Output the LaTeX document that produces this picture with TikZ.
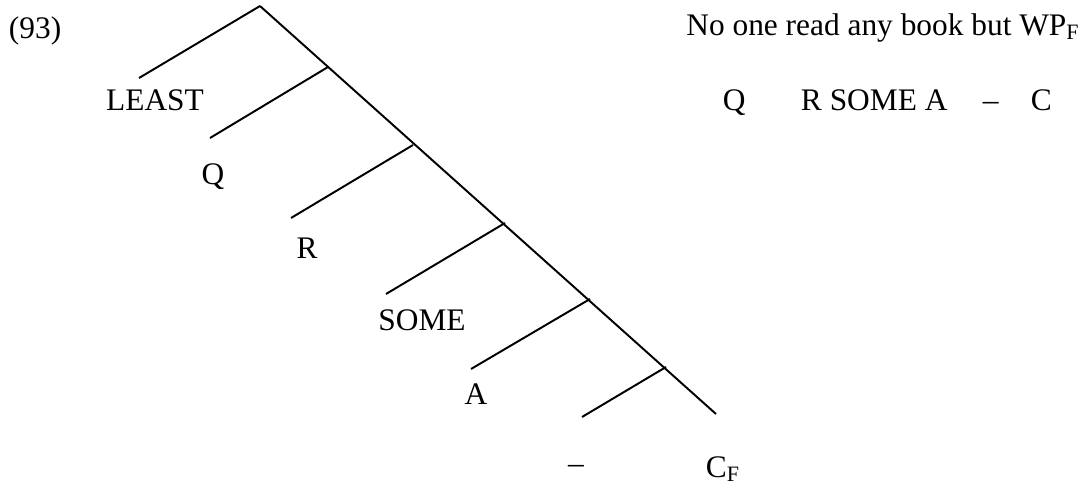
\documentclass[tikz,border=0pt]{standalone}
\usepackage{fontspec}
\setmainfont{Liberation Serif}
\usepackage{tikz}
\tikzstyle{lbl}=[inner sep=0pt, font=\fontsize{11.3}{13}\selectfont]

\begin{document}
\begin{tikzpicture}
        [x=0.36pt,y=-0.36pt,line width=0.7pt]
            \useasboundingbox (0,0) rectangle (1086,485);
            \coordinate (top) at (260,6);
            \coordinate (bot) at (716,414);
            \draw (top) -- (bot);
            % attachment points on the spine
            \coordinate (s1) at (328,67);
            \coordinate (s2) at (413,145);
            \coordinate (s3) at (505,223);
            \coordinate (s4) at (590,299);
            \coordinate (s5) at (666,367);
            % left branches
            \draw (top) -- (139,78) coordinate (b0);
            \draw (s1) -- (210,138) coordinate (b1);
            \draw (s2) -- (291,218) coordinate (b2);
            \draw (s3) -- (386,294) coordinate (b3);
            \draw (s4) -- (471,369) coordinate (b4);
            \draw (s5) -- (582,417) coordinate (b5);
            \node [lbl] (least) at (155,100) {LEAST};
            \node [lbl] (q) at (213,177) {Q};
            \node [lbl] (r) at (307,248) {R};
            \node [lbl] (some) at (422,320) {SOME};
            \node [lbl] (a) at (476,394) {A};
            \node [lbl] (dash) at (576,469) {--};
            \node [lbl,anchor=base west] (cf) at (705,477) {C\textsubscript{F}};
            \node [lbl,anchor=base west] (num) at (8,38) {(93)};
            \node [lbl,anchor=base east] (sent) at (1081,35) {No one read any book but WP\textsubscript{F}};
            \node [lbl,anchor=base west] (tq) at (722,110) {Q};
            \node [lbl,anchor=base west] (tr) at (800,110) {R SOME A};
            \node [lbl,anchor=base west] (td) at (982,110) {--};
            \node [lbl,anchor=base west] (tc) at (1030,110) {C};
        \end{tikzpicture}
\end{document}
